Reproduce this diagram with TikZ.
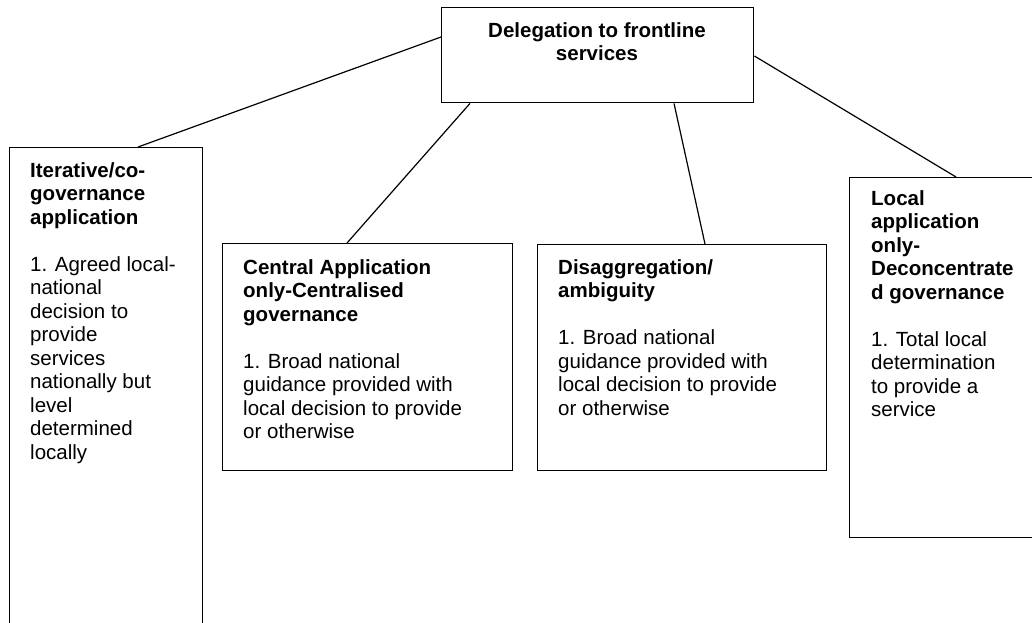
\documentclass[tikz,border=0pt]{standalone}
\usepackage{fontspec}
\setmainfont{Liberation Sans}
\usetikzlibrary{calc}
\begin{document}
\begin{tikzpicture}[x=1pt,y=-1pt,
  box/.style={draw=black,line width=1.4pt,inner sep=0pt,anchor=north west,fill=white},
  link/.style={draw=black,line width=1.2pt},
  body/.style={anchor=north west,inner sep=0pt,align=left,
    font=\fontsize{20.5}{23.5}\selectfont},
  head/.style={anchor=north,inner sep=0pt,align=center,
    font=\fontsize{20.5}{23.5}\selectfont\bfseries}]
\useasboundingbox (0,0) rectangle (1032,622);
\clip (0,0) rectangle (1032,622);
\fill[white] (0,0) rectangle (1032,622);

% boxes
\node[box,minimum width=312pt,minimum height=95pt] (top) at (441,7) {};
\node[box,minimum width=193pt,minimum height=520pt] (lbox) at (9,147) {};
\node[box,minimum width=290pt,minimum height=227pt] (cbox) at (222,243) {};
\node[box,minimum width=289pt,minimum height=226pt] (dbox) at (537,244) {};
\node[box,minimum width=220pt,minimum height=360pt] (rbox) at (849,177) {};

% connectors
\draw[link] ($(top.north west)+(0,30)$) -- ($(lbox.north west)+(129,0)$);
\draw[link] ($(top.south west)+(29,0)$) -- ($(cbox.north west)+(125,0)$);
\draw[link] ($(top.south west)+(233,0)$) -- ($(dbox.north west)+(168,0)$);
\draw[link] ($(top.north east)+(0,49)$) -- ($(rbox.north west)+(107,0)$);

% texts
\node[head] (ttop) at (597,22) {Delegation to frontline\\services};

\node[body] (tl) at (30,162) {\textbf{Iterative/co-}\\\textbf{governance}\\\textbf{application}\\[23.5pt]
1. Agreed local-\\national\\decision to\\provide\\services\\nationally but\\level\\determined\\locally};

\node[body] (tc) at (243,259) {\textbf{Central Application}\\\textbf{only-Centralised}\\\textbf{governance}\\[23.5pt]
1. Broad national\\guidance provided with\\local decision to provide\\or otherwise};

\node[body] (td) at (558,259) {\textbf{Disaggregation/}\\\textbf{ambiguity}\\[23.5pt]
1. Broad national\\guidance provided with\\local decision to provide\\or otherwise};

\node[body] (tr) at (871,190) {\textbf{Local}\\\textbf{application}\\\textbf{only-}\\\textbf{Deconcentrate}\\\textbf{d governance}\\[23.5pt]
1. Total local\\determination\\to provide a\\service};
\end{tikzpicture}
\end{document}
